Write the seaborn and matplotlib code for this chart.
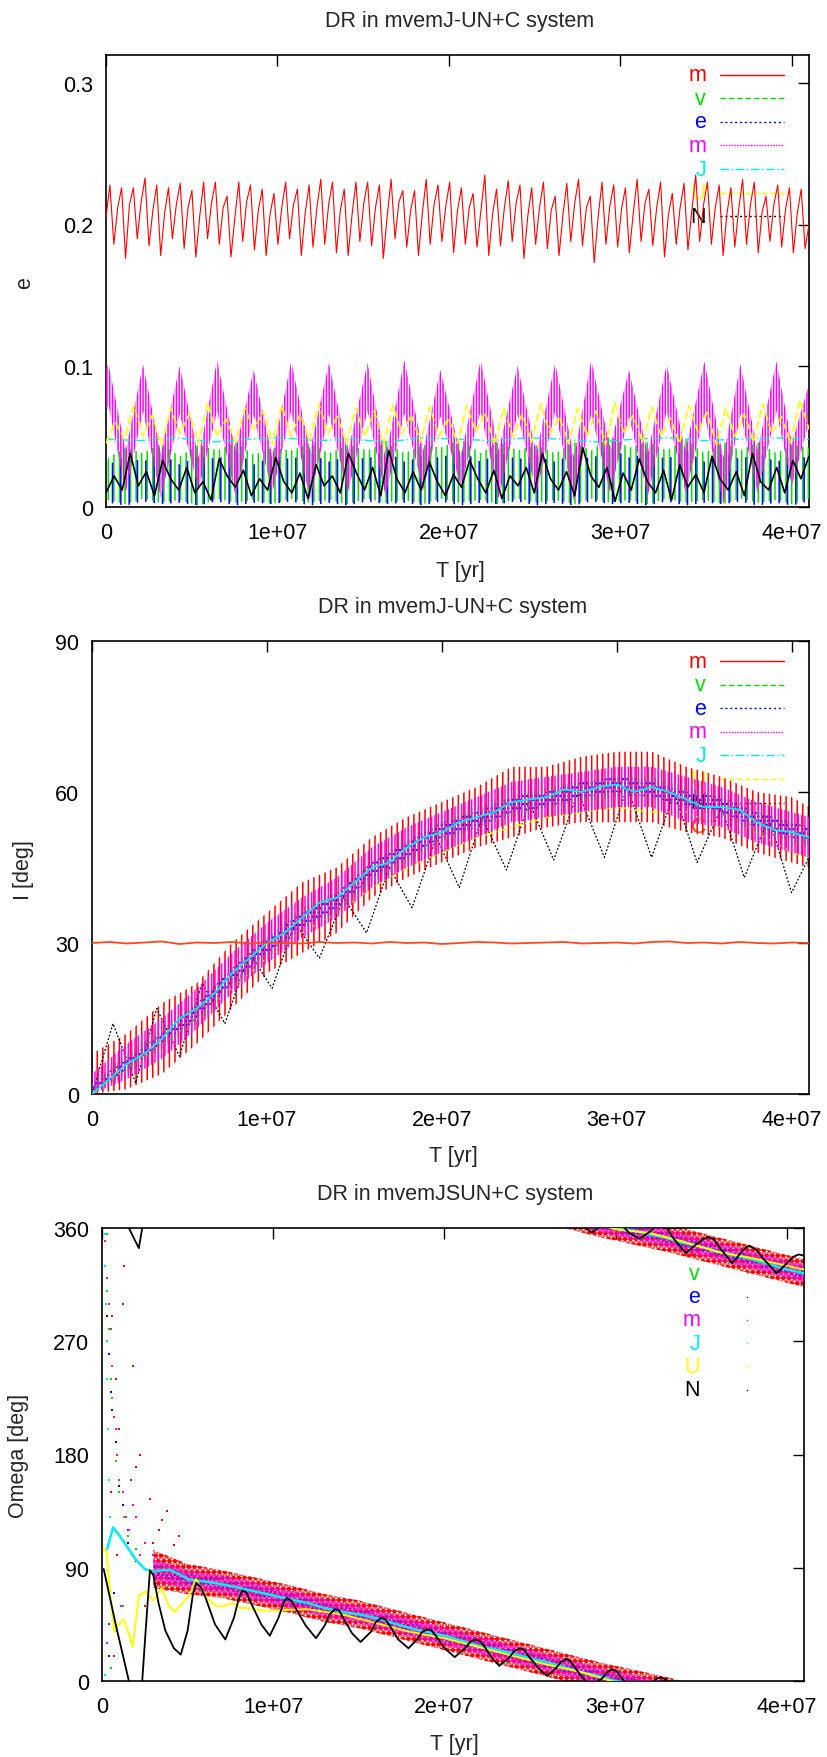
import numpy as np
import matplotlib
matplotlib.use("Agg")
import matplotlib.pyplot as plt
import seaborn as sns

T_END = 4.1e7
FS = 15.5

RED, GRN, BLU, MAG = "#ff0000", "#00e000", "#0000ff", "#ff00ff"
CYN, YEL, BLK, ORG = "#00eeee", "#ffff00", "#000000", "#ff4a10"

# ---------------- panel 1 : eccentricity (values in 1e-3) ----------------
red_e = [205,
         228, 186, 212, 226, 176, 214, 226, 190, 216, 233, 185, 210, 228, 178, 208,
         226, 190, 214, 229, 183, 212, 224, 177, 206, 230, 190, 215, 230, 186, 212,
         220, 177, 205, 230, 188, 216, 228, 182, 210, 225, 178, 207, 222, 186, 212,
         230, 190, 214, 225, 178, 208, 228, 184, 212, 232, 186, 214, 230, 180, 210,
         225, 178, 207, 230, 188, 215, 230, 185, 212, 228, 176, 206, 232, 190, 216,
         224, 184, 210, 224, 178, 208, 232, 186, 214, 228, 188, 213, 230, 180, 210,
         226, 186, 212, 222, 184, 210, 235, 178, 208, 225, 185, 212, 231, 188, 215,
         228, 176, 206, 226, 186, 212, 230, 183, 210, 220, 178, 207, 229, 188, 215,
         232, 185, 212, 220, 173, 205, 230, 186, 213, 228, 184, 211, 226, 180, 208,
         232, 188, 215, 225, 185, 212, 230, 177, 207, 222, 186, 212, 229, 182, 210,
         235, 188, 214, 230, 186, 212, 228, 178, 208, 226, 184, 211, 232, 186, 214,
         230, 180, 209, 220, 188, 214, 228, 184, 211, 226, 180, 208, 225, 183, 200]
yel_e = [45, 60, 48, 72, 50, 65, 44, 70, 52, 66, 45, 74, 50, 62, 46, 70, 55, 68, 44, 72,
         50, 66, 47, 73, 52, 64, 45, 70, 50, 68, 44, 72, 52, 65, 46, 71, 50, 63, 45, 72,
         53, 67, 44, 70, 50, 66, 46, 73, 52, 64, 45, 70, 50, 68, 44, 74, 52, 65, 46, 71,
         50, 63, 45, 72, 53, 67, 44, 70, 50, 66, 46, 73, 52, 64, 45, 76, 55]
blk_e = [10, 22, 12, 38, 15, 25, 8, 33, 20, 12, 28, 10, 18, 5, 34, 22, 14, 26, 8, 20,
         12, 35, 18, 10, 24, 6, 30, 15, 22, 10, 38, 24, 12, 28, 8, 40, 20, 10, 25, 12,
         32, 18, 8, 23, 14, 33, 20, 10, 26, 6, 22, 15, 28, 10, 38, 20, 12, 25, 8, 42,
         22, 14, 28, 4, 24, 12, 34, 18, 10, 26, 5, 30, 14, 23, 10, 36, 20, 12, 25, 8,
         38, 18, 12, 28, 10, 33, 20, 36]
cyn_e = [48, 47, 49, 46, 48, 49, 47, 48, 46, 49, 48, 47, 49, 48, 46, 48, 49, 47, 48, 49, 48]

# envelopes of the fast oscillating series (time in 1e7 yr)
env_t = [0, 0.015, 0.115, 0.216, 0.32, 0.43, 0.54, 0.648, 0.755, 0.861, 0.97, 1.08,
         1.19, 1.30, 1.41, 1.525, 1.63, 1.74, 1.85, 1.95, 2.07, 2.185, 2.29, 2.40,
         2.51, 2.62, 2.73, 2.83, 2.94, 3.05, 3.16, 3.27, 3.38, 3.49, 3.60, 3.70, 3.80,
         3.91, 4.0, 4.1]
mag_hi = [98, 101, 40, 101, 38, 100, 35, 104, 40, 97, 36, 103, 40, 102, 38, 102, 35,
          104, 40, 97, 36, 104, 40, 100, 38, 102, 35, 104, 42, 97, 38, 101, 40, 103,
          35, 101, 40, 103, 45, 87]
mag_lo = [70, 72, 10, 68, 6, 66, 12, 68, 8, 65, 10, 68, 5, 66, 10, 68, 8, 66, 12, 64,
          15, 68, 6, 66, 10, 68, 4, 66, 10, 64, 8, 68, 10, 66, 2, 66, 10, 68, 15, 60]
grn_hi = [30, 35, 42, 38, 45, 36, 44, 40, 46, 37, 42, 40, 45, 38, 44, 40, 46, 38, 44,
          42, 48, 38, 46, 40, 44, 38, 46, 40, 50, 42, 46, 40, 48, 38, 46, 40, 46, 38,
          44, 42]
grn_lo = [3, 5, 2, 6, 3, 5, 1, 6, 3, 5, 2, 6, 3, 5, 2, 6, 3, 5, 2, 6, 3, 5, 2, 6, 3, 5,
          2, 6, 3, 5, 2, 6, 3, 5, 2, 6, 3, 5, 2, 6]
blu_hi = [28, 30, 36, 32, 38, 30, 36, 34, 40, 30, 36, 34, 38, 32, 36, 34, 40, 32, 36,
          35, 40, 32, 38, 34, 36, 32, 38, 34, 42, 35, 38, 34, 40, 32, 38, 34, 38, 32,
          36, 35]
blu_lo = [1, 3, 1, 4, 2, 3, 1, 4, 1, 3, 2, 4, 1, 3, 1, 4, 2, 3, 1, 4, 1, 3, 2, 4, 1, 3,
          1, 4, 2, 3, 1, 4, 1, 3, 2, 4, 1, 3, 1, 4]

# ---------------- panel 2 : inclination (deg) ----------------
t2 = [0.0, 0.2, 0.4, 0.6, 0.8, 1.0, 1.2, 1.4, 1.6, 1.8, 2.0, 2.2, 2.4, 2.6, 2.8,
      3.0, 3.2, 3.4, 3.6, 3.8, 4.0, 4.1]
red_i_hi = [8, 12, 18, 22, 30, 36, 42, 45, 51, 55, 58, 61, 65, 65, 67, 68, 68, 65, 63, 60, 59, 57]
red_i_lo = [0, 1, 4, 10, 17, 24, 28, 32, 39, 43, 46, 49, 51, 53, 54, 54, 54, 52, 51, 48, 46, 45]
mag_i_hi = [4, 10, 15, 21, 28, 34, 39, 43, 49, 53, 56, 59, 62, 63, 64, 65, 65, 63, 61, 58, 56, 55]
mag_i_lo = [0, 3, 7, 13, 20, 26, 31, 35, 41, 45, 48, 51, 54, 55, 56, 57, 57, 54, 53, 50, 48, 47]
grn_i_hi = [2, 8, 13, 18, 25, 31, 37, 40, 46, 50, 54, 57, 59, 61, 62, 63, 63, 61, 59, 56, 54, 53]
grn_i_lo = [0, 4, 9, 14, 21, 27, 33, 36, 42, 46, 50, 53, 55, 57, 58, 59, 59, 57, 55, 52, 50, 49]
blu_i_hi = [2, 7, 12, 18, 25, 31, 36, 40, 46, 50, 54, 56, 59, 60, 62, 63, 62, 60, 59, 56, 54, 53]
blu_i_lo = [0, 5, 10, 15, 22, 28, 33, 37, 43, 47, 51, 53, 56, 57, 59, 60, 59, 57, 56, 53, 51, 50]
yel_i = [0, 5, 10, 15, 21, 27, 32, 36, 41, 45, 48, 51, 53, 55, 56, 57, 56, 56, 53, 52, 48, 47]
cyn_i = [0, 3, 6, 8, 11, 15, 17, 20, 24, 27, 30, 32, 35, 38, 39, 42, 45, 46, 49, 51, 52,
         54, 55, 56, 58, 58.5, 59, 60.5, 60, 61, 61.5, 60, 61, 60, 58.5, 57, 57, 56.5,
         54, 52.5, 52, 51]
blk_i_t = [0, 0.12, 0.25, 0.37, 0.50, 0.63, 0.76, 0.9, 1.03, 1.16, 1.3, 1.44, 1.57, 1.7,
           1.83, 1.97, 2.1, 2.23, 2.37, 2.5, 2.64, 2.78, 2.93, 3.06, 3.2, 3.33, 3.46,
           3.6, 3.73, 3.87, 4.0, 4.1]
blk_i = [0, 14, 2.2, 17, 7.5, 22, 14, 28, 21, 34, 27, 39, 32, 45, 37, 51, 41, 55, 44.5,
         58, 46.5, 60, 47, 61, 47, 60, 46, 57, 43, 55, 40, 47]
org_i = [30.0, 30.2, 29.9, 30.1, 30.3, 29.8, 30.1, 30.0, 30.2, 29.9, 30.1, 30.0, 29.9,
         30.2, 30.0, 30.1, 29.9, 30.2, 30.0, 30.1, 29.8, 30.0, 30.2, 30.1, 29.9, 30.0,
         30.1, 30.2, 29.9, 30.0, 30.1, 29.9, 30.2, 30.3, 30.0, 30.1, 29.9, 30.2, 30.0,
         29.9, 30.1, 30.0]

# ---------------- panel 3 : node longitude (deg, unwrapped) ----------------
t3 = [0.3, 0.5, 0.7, 0.9, 1.1, 1.3, 1.5, 1.7, 1.9, 2.1, 2.3, 2.5, 2.7, 2.9, 3.1, 3.3,
      3.5, 3.7, 3.9, 4.1]
red_o_hi = [104, 93, 88, 82, 76, 69, 64, 57, 50, 43, 36, 29, 22, 15, 9, 3, -4, -11, -18, -25]
red_o_lo = [74, 69, 66, 60, 54, 47, 42, 35, 28, 21, 14, 7, 0, -7, -13, -19, -26, -33, -40, -47]
mag_o_hi = [97, 88, 84, 78, 72, 65, 60, 53, 46, 39, 32, 25, 18, 11, 5, -1, -8, -15, -22, -29]
mag_o_lo = [80, 73, 70, 64, 58, 51, 46, 39, 32, 25, 18, 11, 4, -3, -9, -15, -22, -29, -36, -43]
blu_o_hi = [93, 85, 81, 75, 69, 62, 57, 50, 43, 36, 29, 22, 15, 8, 2, -4, -11, -18, -25, -32]
blu_o_lo = [84, 77, 73, 67, 61, 54, 49, 42, 35, 28, 21, 14, 7, 0, -6, -12, -19, -26, -33, -40]
grn_o_hi = [94, 86, 81, 75, 69, 62, 57, 50, 43, 36, 29, 22, 15, 8, 2, -4, -11, -18, -25, -32]
grn_o_lo = [83, 76, 73, 67, 61, 54, 49, 42, 35, 28, 21, 14, 7, 0, -6, -12, -19, -26, -33, -40]
cyn_o_t = [0.03, 0.065, 0.1, 0.15, 0.2, 0.25, 0.3, 0.35, 0.4, 0.45, 0.5, 0.6, 0.7, 0.8,
           0.9, 1.0, 1.1, 1.2, 1.3, 1.4, 1.5, 1.6, 1.7, 1.8, 1.9, 2.0, 2.1, 2.2, 2.3, 2.4,
           2.5, 2.6, 2.7, 2.8, 2.9, 3.0, 3.1, 3.2, 3.3, 3.4, 3.5, 3.6, 3.7, 3.8, 3.9, 4.0, 4.1]
cyn_o = [105, 122, 116, 106, 96, 89, 87, 88, 88, 85, 81, 79, 77, 74, 71, 68, 65, 62, 58,
         55, 53, 50, 46, 42, 39, 36, 32, 28, 25, 22, 18, 15, 11, 7, 4, 0, -2, -5, -8, -12,
         -15, -19, -22, -25, -29, -33, -36]
yel_o_t = [0.01, 0.025, 0.071, 0.1, 0.126, 0.155, 0.179, 0.216, 0.256, 0.302, 0.348, 0.39,
           0.425, 0.471, 0.51, 0.549, 0.61, 0.672, 0.72, 0.764, 0.81, 0.857, 0.93, 1.01,
           1.2, 1.4, 1.6, 1.8, 2.0, 2.2, 2.4, 2.6, 2.8, 3.0, 3.2, 3.4, 3.6, 3.8, 4.0, 4.1]
yel_o = [105, 103, 39, 45, 49, 38, 27, 68, 71, 64, 74, 60, 55, 62, 68, 81, 66, 59, 60, 62,
         58, 58, 56, 56, 57, 53, 46, 39, 34, 27, 20, 13, 7, -1, -4, -11, -19, -24, -30, -33]
blk_o_t = [0.01, 0.08, 0.157, 0.215, 0.235, 0.255, 0.28, 0.30, 0.33, 0.37, 0.42, 0.46, 0.5,
           0.53, 0.55, 0.575, 0.6, 0.66, 0.72, 0.77, 0.80, 0.82, 0.845, 0.87, 0.93, 0.98,
           1.03, 1.06, 1.08, 1.105, 1.13, 1.19, 1.25, 1.30, 1.33, 1.36, 1.385, 1.41, 1.46,
           1.51, 1.57, 1.60, 1.63, 1.655, 1.68, 1.73, 1.79, 1.84, 1.87, 1.90, 1.925, 1.95,
           2.0, 2.06, 2.12, 2.15, 2.18, 2.205, 2.23, 2.28, 2.32, 2.38, 2.41, 2.44, 2.465,
           2.49, 2.55, 2.60, 2.65, 2.68, 2.71, 2.735, 2.76, 2.81, 2.86, 2.92, 2.95, 2.98,
           3.005, 3.03, 3.08, 3.14, 3.20, 3.23, 3.26, 3.295, 3.33, 3.41, 3.47, 3.51, 3.54,
           3.575, 3.61, 3.68, 3.73, 3.755, 3.78, 3.82, 3.86, 3.94, 4.0, 4.035, 4.07, 4.1]
blk_o = [89, 45, 0, -16, 0, 40, 88, 84, 62, 40, 26, 21, 40, 68, 78, 75, 68, 45, 33, 50, 66,
         72, 70, 62, 45, 36, 50, 62, 66, 64, 58, 44, 34, 44, 53, 57, 56, 50, 38, 31, 39,
         47, 50, 49, 44, 33, 26, 33, 39, 41, 40, 36, 26, 19, 26, 31, 33, 32, 28, 18, 12,
         19, 24, 26, 25, 20, 10, 4, 10, 15, 17.6, 16, 11, 2, -3.5, 2, 7, 9.4, 8, 3, -4,
         -8.4, -3, 1, 3, 1, -7, -20, -13, -9, -7, -9, -16, -28, -20, -16, -14, -17, -24,
         -36, -28, -23, -21, -22]
# scattered points of the chaotic start (t in 1e7 yr, deg)
sc_red_t = [0.05, 0.06, 0.08, 0.09, 0.10, 0.12, 0.15, 0.17, 0.18, 0.20, 0.28, 0.30, 0.33,
            0.38, 0.45, 0.13, 0.22, 0.25, 0.35, 0.42, 0.07, 0.04]
sc_red = [150, 290, 240, 100, 200, 300, 120, 160, 250, 170, 145, 110, 120, 135, 115, 330,
          180, 60, 128, 108, 20, 45]
sc_mag_t = [0.02, 0.03, 0.04, 0.05, 0.06, 0.07, 0.08, 0.09, 0.10, 0.12, 0.14, 0.16, 0.20,
            0.25, 0.03, 0.11, 0.18, 0.22, 0.30]
sc_mag = [350, 320, 300, 280, 250, 210, 200, 180, 160, 150, 130, 120, 130, 110, 30, 60,
          140, 100, 100]
sc_blu_t = [0.02, 0.03, 0.04, 0.05, 0.06, 0.08, 0.10, 0.12, 0.15, 0.18, 0.20, 0.04, 0.07]
sc_blu = [330, 290, 260, 230, 215, 190, 155, 140, 110, 100, 95, 20, 70]
sc_grn_t = [0.03, 0.04, 0.05, 0.06, 0.08, 0.10, 0.13, 0.15, 0.20, 0.03, 0.08, 0.05, 0.12]
sc_grn = [310, 280, 240, 225, 175, 150, 130, 115, 105, 355, 40, 10, 60]
sc_cyn_t = [0.02, 0.02, 0.025, 0.03, 0.03, 0.035, 0.04, 0.045, 0.02]
sc_cyn = [355, 330, 300, 270, 240, 200, 160, 130, 5]

XT = [0, 1e7, 2e7, 3e7, 4e7]
XL = ["0", "1e+07", "2e+07", "3e+07", "4e+07"]

sns.set_theme(style="white")
plt.rcParams["font.family"] = ["Liberation Sans", "DejaVu Sans"]
plt.rcParams["hatch.linewidth"] = 1.1

W, H = 828, 1758
fig = plt.figure(figsize=(W / 100, H / 100), dpi=100)

boxes = [(106, 809, 56, 508), (92, 809, 642, 1095), (102, 804, 1229, 1682)]


def make_axes(box):
    L, R, T, B = box
    return fig.add_axes([L / W, 1 - B / H, (R - L) / W, (B - T) / H])


def style_axes(ax, ylim, yticks, ylabels):
    ax.set_xlim(0, T_END)
    ax.set_ylim(*ylim)
    ax.set_xticks(XT)
    ax.set_xticklabels(XL)
    ax.set_yticks(yticks)
    ax.set_yticklabels(ylabels)
    ax.tick_params(direction="in", length=8, width=1, top=True, right=True,
                   labelsize=FS, colors="black")
    ax.tick_params(axis="x", pad=11)
    ax.tick_params(axis="y", pad=9)
    ax.set_xlabel("")
    ax.set_ylabel("")
    for s in ax.spines.values():
        s.set_visible(True)
        s.set_color("black")
        s.set_linewidth(1.2)


def ax_xy(box, x, y):
    L, R, T, B = box
    return (x - L) / (R - L), (B - y) / (B - T)


def band(ax, t, lo, hi, color, hatch, z, scale=1.0, shift=0.0):
    tt = np.asarray(t) * 1e7
    ax.fill_between(tt, np.asarray(lo) * scale + shift, np.asarray(hi) * scale + shift,
                    facecolor="none", edgecolor=color, hatch=hatch, linewidth=0, zorder=z)


def legend_rows(ax, box, entries, y0, dy, xl, x0, x1, dots=False):
    for i, (lab, col, ls) in enumerate(entries):
        y = y0 + i * dy
        tx, ty = ax_xy(box, xl, y)
        ax.text(tx, ty, lab, color=col, ha="right", va="center", fontsize=FS,
                transform=ax.transAxes, zorder=1)
        if ls is None:
            continue
        if dots:
            px, py = ax_xy(box, x0, y)
            ax.plot([px], [py], marker="s", ms=1.0, mew=0, color=col,
                    transform=ax.transAxes, zorder=1)
        else:
            a, b = ax_xy(box, x0, y)
            c, _ = ax_xy(box, x1, y)
            ax.plot([a, c], [b, b], color=col, ls=ls, lw=1.0, transform=ax.transAxes, zorder=1)


DASH = (0, (4, 2))
DOT = (0, (1.5, 2))
FINE = (0, (1, 1))
DASHDOT = (0, (6, 2, 1, 2))

# ---------- panel 1 ----------
ax1 = make_axes(boxes[0])
t_red = np.linspace(0, T_END, len(red_e))
sns.lineplot(x=t_red, y=np.array(red_e) / 1000, color=RED, lw=0.8, ax=ax1, zorder=3)
band(ax1, env_t, grn_lo, grn_hi, GRN, "|||", 3, scale=1e-3)
band(ax1, env_t, blu_lo, blu_hi, BLU, "||", 3, scale=1e-3)
band(ax1, env_t, mag_lo, mag_hi, MAG, "||||||", 3, scale=1e-3)
sns.lineplot(x=np.linspace(0, T_END, len(cyn_e)), y=np.array(cyn_e) / 1000, color=CYN,
             lw=1.0, ls=DASHDOT, ax=ax1, zorder=4)
sns.lineplot(x=np.linspace(0, T_END, len(yel_e)), y=np.array(yel_e) / 1000, color=YEL,
             lw=1.2, ls=(0, (5, 2)), ax=ax1, zorder=4)
sns.lineplot(x=np.linspace(0, T_END, len(blk_e)), y=np.array(blk_e) / 1000, color=BLK,
             lw=1.2, ax=ax1, zorder=5)
style_axes(ax1, (0, 0.32), [0, 0.1, 0.2, 0.3], ["0", "0.1", "0.2", "0.3"])
leg1 = [("m", RED, "-"), ("v", GRN, DASH), ("e", BLU, DOT), ("m", MAG, FINE),
        ("J", CYN, DASHDOT), ("U", YEL, DASH), ("N", BLK, DOT)]
legend_rows(ax1, boxes[0], leg1, 75.6, 23.6, 706, 720, 784)

# ---------- panel 2 ----------
ax2 = make_axes(boxes[1])
band(ax2, t2, red_i_lo, red_i_hi, RED, "|||", 2)
sns.lineplot(x=np.array(blk_i_t) * 1e7, y=blk_i, color=BLK, lw=0.9, ls=(0, (1.5, 1.5)),
             ax=ax2, zorder=2.5)
band(ax2, t2, grn_i_lo, grn_i_hi, GRN, "|||||", 3)
band(ax2, t2, blu_i_lo, blu_i_hi, BLU, "....", 3)
band(ax2, t2, mag_i_lo, mag_i_hi, MAG, "|||||", 3)
sns.lineplot(x=np.linspace(0, T_END, len(cyn_i)), y=cyn_i, color=CYN, lw=1.3, ax=ax2, zorder=4)
sns.lineplot(x=np.array(t2) * 1e7, y=yel_i, color=YEL, lw=1.0, ls=DASHDOT, ax=ax2, zorder=2.6)
sns.lineplot(x=np.linspace(0, T_END, len(org_i)), y=org_i, color=ORG, lw=1.3, ax=ax2, zorder=5)
style_axes(ax2, (0, 90), [0, 30, 60, 90], ["0", "30", "60", "90"])
leg2 = leg1 + [("C", ORG, None)]
legend_rows(ax2, boxes[1], leg2, 662, 23.6, 706, 720, 784)

# ---------- panel 3 ----------
ax3 = make_axes(boxes[2])
for sh in (0, 360):
    band(ax3, t3, red_o_lo, red_o_hi, RED, "......", 2, shift=sh)
    band(ax3, t3, red_o_lo, red_o_hi, RED, "ooo", 2, shift=sh)
    band(ax3, t3, grn_o_lo, grn_o_hi, GRN, "....", 3, shift=sh)
    band(ax3, t3, blu_o_lo, blu_o_hi, BLU, "....", 3, shift=sh)
    band(ax3, t3, mag_o_lo, mag_o_hi, MAG, "........", 3, shift=sh)
    ax3.plot(np.array(cyn_o_t) * 1e7, np.array(cyn_o) + sh, color=CYN, lw=1.8, zorder=4)
    ax3.plot(np.array(yel_o_t) * 1e7, np.array(yel_o) + sh, color=YEL, lw=1.4, zorder=4)
    ax3.plot(np.array(blk_o_t) * 1e7, np.array(blk_o) + sh, color=BLK, lw=1.3, zorder=5)
for tt, vv, col in [(sc_red_t, sc_red, RED), (sc_mag_t, sc_mag, MAG), (sc_blu_t, sc_blu, BLU),
                    (sc_grn_t, sc_grn, GRN), (sc_cyn_t, sc_cyn, CYN)]:
    sns.scatterplot(x=np.array(tt) * 1e7, y=vv, color=col, s=4, marker="s", linewidth=0,
                    ax=ax3, zorder=3)
style_axes(ax3, (0, 360), [0, 90, 180, 270, 360], ["0", "90", "180", "270", "360"])
leg3 = [("m", RED, "."), ("v", GRN, "."), ("e", BLU, "."), ("m", MAG, "."),
        ("J", CYN, "."), ("U", YEL, "."), ("N", BLK, ".")]
legend_rows(ax3, boxes[2], leg3, 1251, 23.3, 700, 747, 747, dots=True)

# ---------- titles and axis labels ----------
titles = ["DR in mvemJ-UN+C system", "DR in mvemJ-UN+C system", "DR in mvemJSUN+C system"]
title_xy = [(460, 21), (453, 607), (455, 1195)]
xlab_xy = [(460, 571), (453, 1157), (454, 1745)]
ylabs = ["e", "I [deg]", "Omega [deg]"]
ylab_xy = [(25, 283), (24, 870), (19, 1456)]
for i in range(3):
    fig.text(title_xy[i][0] / W, 1 - title_xy[i][1] / H, titles[i], ha="center",
             va="center", fontsize=FS)
    fig.text(xlab_xy[i][0] / W, 1 - xlab_xy[i][1] / H, "T [yr]", ha="center",
             va="center", fontsize=FS)
    fig.text(ylab_xy[i][0] / W, 1 - ylab_xy[i][1] / H, ylabs[i], ha="center",
             va="center", rotation=90, fontsize=FS)

fig.savefig("out.png", dpi=100, facecolor="white")
